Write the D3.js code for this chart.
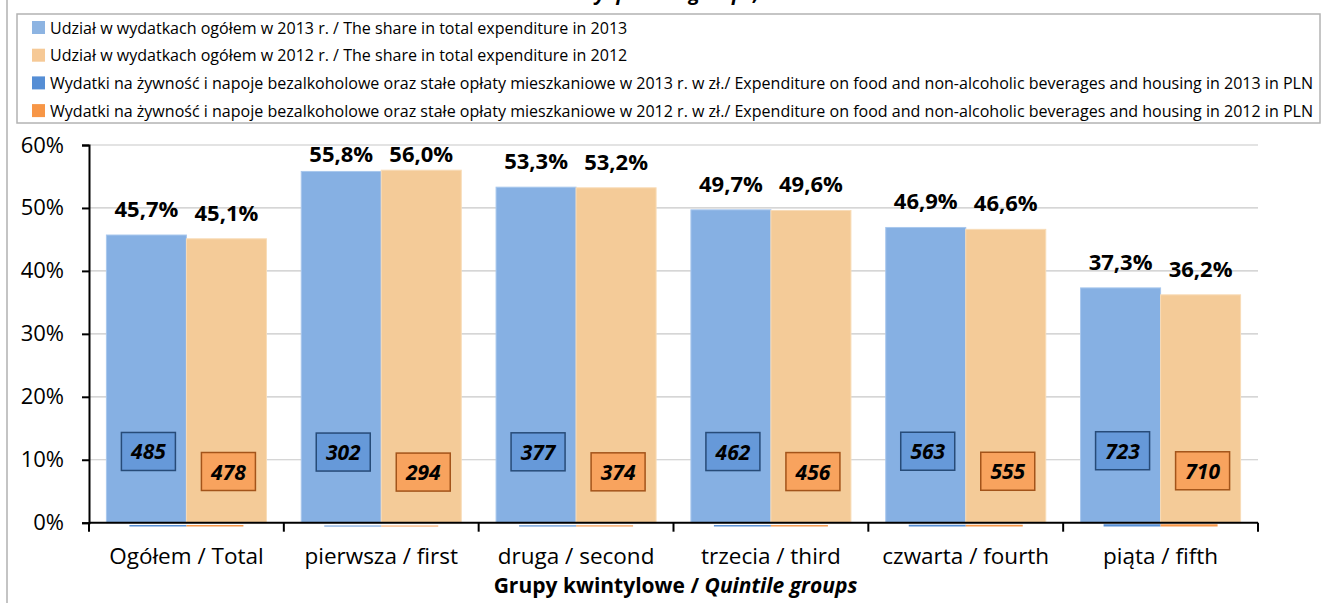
<!DOCTYPE html>
<html>
<head>
<meta charset="utf-8">
<script src="https://cdn.jsdelivr.net/npm/d3@7"></script>
<style>
body{margin:0;background:#fff;}
svg{display:block;}
text{font-family:"Open Sans","Noto Sans",sans-serif;}
</style>
</head>
<body>
<div id="chart"></div>
<script>
var categories = ["Ogółem / Total","pierwsza / first","druga / second","trzecia / third","czwarta / fourth","piąta / fifth"];
var share2013 = [45.7,55.8,53.3,49.7,46.9,37.3];
var share2012 = [45.1,56.0,53.2,49.6,46.6,36.2];
var exp2013 = [485,302,377,462,563,723];
var exp2012 = [478,294,374,456,555,710];
var yTicks = [0,10,20,30,40,50,60];
var legendLabels = [
	"Udział w wydatkach ogółem w 2013 r. / The share in total expenditure in 2013",
	"Udział w wydatkach ogółem w 2012 r. / The share in total expenditure in 2012",
	"Wydatki na żywność i napoje bezalkoholowe oraz stałe opłaty mieszkaniowe w 2013 r. w zł./ Expenditure on food and non-alcoholic beverages and housing in 2013 in PLN",
	"Wydatki na żywność i napoje bezalkoholowe oraz stałe opłaty mieszkaniowe w 2012 r. w zł./ Expenditure on food and non-alcoholic beverages and housing in 2012 in PLN"
];
var legendColors = ["#8db4e2","#f6c996","#558ed5","#f79646"];

var W = 1325, H = 603;
var svg = d3.select("#chart").append("svg").attr("width",W).attr("height",H);

// left frame line
svg.append("line").attr("x1",7).attr("x2",7).attr("y1",0).attr("y2",H)
	.attr("stroke","#c4c4c4").attr("stroke-width",2);

// title, mostly cut off at the top (as in the source)
svg.append("text").attr("x",583).attr("y",0)
	.style("font-size","20px").style("font-weight","bold").style("font-style","italic")
	.text("by quintile groups,");

// legend
var lg = svg.append("g");
lg.append("rect").attr("x",17).attr("y",14).attr("width",1303).attr("height",109)
	.attr("fill","#fff").attr("stroke","#b3b3b3").attr("stroke-width",1.5);
var rows = lg.selectAll(".lrow").data(legendLabels).enter().append("g")
	.attr("class","lrow")
	.attr("transform",function(d,i){ return "translate(0,"+(21+i*27.7)+")"; });
rows.append("rect").attr("x",32).attr("y",0).attr("width",13).attr("height",13)
	.attr("fill",function(d,i){ return legendColors[i]; });
var ltext = rows.append("text").attr("x",50).attr("y",12.5)
	.style("font-size","16px").attr("fill","#000")
	.text(function(d){ return d; });
// legend font is condensed, squeeze all lines by the same factor
var maxW = 0;
ltext.each(function(){ maxW = Math.max(maxW, this.getComputedTextLength()); });
var k = 1263/maxW;
ltext.each(function(){
	d3.select(this).attr("textLength", this.getComputedTextLength()*k).attr("lengthAdjust","spacingAndGlyphs");
});

// scales
var x0 = 89, x1 = 1258;
var x = d3.scaleBand().domain(categories).range([x0,x1]).paddingInner(0).paddingOuter(0);
var xs = d3.scaleBand().domain(["2013","2012"]).range([0,x.bandwidth()]).paddingInner(0).paddingOuter(0.2175);
var xt = d3.scaleBand().domain(["2013","2012"]).range([0,x.bandwidth()]).paddingInner(0).paddingOuter(0.709);
var y = d3.scaleLinear().domain([0,60]).range([522.7,145]);
// secondary axis for PLN values (hidden), almost flat bars
var y2 = d3.scaleLinear().domain([0,120000]).range([526.5,150.5]);

// gridlines
svg.append("g").selectAll("line").data(yTicks.slice(1)).enter().append("line")
	.attr("x1",x0).attr("x2",x1)
	.attr("y1",function(d){ return y(d); }).attr("y2",function(d){ return y(d); })
	.attr("stroke","#c8c8c8").attr("stroke-width",1.2);

var rowsData = categories.map(function(c,i){
	return {cat:c, s13:share2013[i], s12:share2012[i], e13:exp2013[i], e12:exp2012[i]};
});

// wide bars
var g = svg.append("g");
g.selectAll(".b13").data(rowsData).enter().append("rect").attr("class","b13")
	.attr("x",function(d){ return x(d.cat)+xs("2013"); })
	.attr("width",xs.bandwidth())
	.attr("y",function(d){ return y(d.s13); })
	.attr("height",function(d){ return y(0)-y(d.s13); })
	.attr("fill","#86b0e3").attr("stroke","#a8c7ed").attr("stroke-width",1);
g.selectAll(".b12").data(rowsData).enter().append("rect").attr("class","b12")
	.attr("x",function(d){ return x(d.cat)+xs("2012"); })
	.attr("width",xs.bandwidth())
	.attr("y",function(d){ return y(d.s12); })
	.attr("height",function(d){ return y(0)-y(d.s12); })
	.attr("fill","#f4cb98").attr("stroke","#f8dcb8").attr("stroke-width",1);

// thin bars (secondary axis)
g.selectAll(".t13").data(rowsData).enter().append("rect").attr("class","t13")
	.attr("x",function(d){ return x(d.cat)+xt("2013"); })
	.attr("width",xt.bandwidth())
	.attr("y",function(d){ return y2(d.e13); })
	.attr("height",function(d){ return y2(0)-y2(d.e13); })
	.attr("fill","#558ed5");
g.selectAll(".t12").data(rowsData).enter().append("rect").attr("class","t12")
	.attr("x",function(d){ return x(d.cat)+xt("2012"); })
	.attr("width",xt.bandwidth())
	.attr("y",function(d){ return y2(d.e12); })
	.attr("height",function(d){ return y2(0)-y2(d.e12); })
	.attr("fill","#f79646");

// axes
var yAxis = d3.axisLeft(y).tickValues(yTicks).tickSize(7).tickPadding(18)
	.tickFormat(function(d){ return d+"%"; });
var ya = svg.append("g").attr("transform","translate("+x0+",0)").call(yAxis);
ya.select(".domain").attr("stroke","#000").attr("stroke-width",2);
ya.selectAll(".tick line").attr("stroke","#000").attr("stroke-width",2);
ya.selectAll(".tick text").style("font-size","22px").attr("fill","#000")
	.style("font-family","'Open Sans',sans-serif");

var xa = svg.append("g").attr("transform","translate(0,"+y(0)+")");
xa.append("line").attr("x1",x0).attr("x2",x1).attr("y1",0).attr("y2",0)
	.attr("stroke","#000").attr("stroke-width",2);
var edges = categories.map(function(c){ return x(c); }).concat([x1]);
xa.selectAll(".xtick").data(edges).enter().append("line")
	.attr("x1",function(d){ return d; }).attr("x2",function(d){ return d; })
	.attr("y1",0).attr("y2",9).attr("stroke","#000").attr("stroke-width",2);
xa.selectAll(".xlab").data(categories).enter().append("text")
	.attr("x",function(d){ return x(d)+x.bandwidth()/2; })
	.attr("y",41).attr("text-anchor","middle")
	.style("font-size","22.5px").attr("fill","#000")
	.text(function(d){ return d; });

// axis title
var at = svg.append("text").attr("x",(x0+x1)/2+2).attr("y",593).attr("text-anchor","middle")
	.style("font-size","21px").style("font-weight","bold").attr("fill","#000");
at.append("tspan").text("Grupy kwintylowe / ");
at.append("tspan").style("font-style","italic").text("Quintile groups");

// percentage labels
var fmt = function(v){ return d3.format(".1f")(v).replace(".",",")+"%"; };
function labY(v){ return Math.max(y(v)-18, 162); }
g.selectAll(".l13").data(rowsData).enter().append("text")
	.attr("x",function(d){ return x(d.cat)+xs("2013")+xs.bandwidth()/2; })
	.attr("y",function(d){ return labY(d.s13); })
	.attr("text-anchor","middle").style("font-size","22px").style("font-weight","bold")
	.text(function(d){ return fmt(d.s13); });
g.selectAll(".l12").data(rowsData).enter().append("text")
	.attr("x",function(d){ return x(d.cat)+xs("2012")+xs.bandwidth()/2; })
	.attr("y",function(d){ return labY(d.s12); })
	.attr("text-anchor","middle").style("font-size","22px").style("font-weight","bold")
	.text(function(d){ return fmt(d.s12); });

// PLN value boxes
function boxes(key, ser, fill, stroke, off){
	var bg = g.selectAll(".bx"+ser).data(rowsData).enter().append("g")
		.attr("transform",function(d){
			return "translate("+(x(d.cat)+xs(ser)+xs.bandwidth()/2+2)+","+(y2(d[key])-off)+")";
		});
	bg.append("rect").attr("x",-27).attr("y",-19).attr("width",54).attr("height",38)
		.attr("fill",fill).attr("stroke",stroke).attr("stroke-width",1.5);
	bg.append("text").attr("y",8).attr("text-anchor","middle")
		.style("font-size","21px").style("font-weight","bold").style("font-style","italic")
		.text(function(d){ return d[key]; });
}
boxes("e13","2013","#6699d9","#274b78",73.5);
boxes("e12","2012","#f8a35e","#a3541a",53.5);
</script>
</body>
</html>
